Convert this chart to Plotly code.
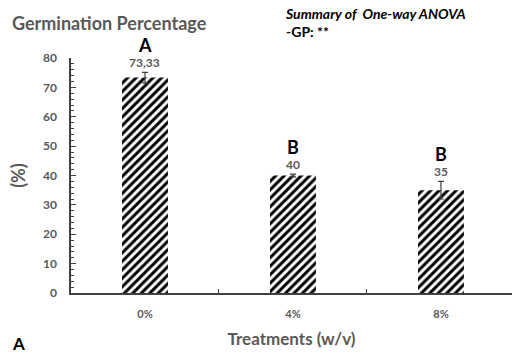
import plotly.graph_objects as go

treatments = ["0%", "4%", "8%"]
germination = [73.33, 40, 35]
error = [1.8, 0.5, 3.0]
value_labels = ["73,33", "40", "35"]
group_letters = ["A", "B", "B"]
y_ticks = [0, 10, 20, 30, 40, 50, 60, 70, 80]

GRAY = "#595959"
FONT = "Lato"

fig = go.Figure()
fig.add_trace(go.Bar(
    x=treatments,
    y=germination,
    width=0.31,
    marker=dict(
        color="white",
        line=dict(width=0),
        pattern=dict(shape="/", fgcolor="black", fgopacity=1, bgcolor="white",
                     size=6, solidity=0.5),
    ),
    error_y=dict(type="data", array=error, visible=True, color="#404040", thickness=1.2, width=3),
    showlegend=False,
))

for x, y, e, lab, letter in zip(treatments, germination, error, value_labels, group_letters):
    fig.add_annotation(x=x, y=y + e, text=lab, showarrow=False, yshift=10,
                       font=dict(family=FONT, size=12, color=GRAY, weight="bold"))
    fig.add_annotation(x=x, y=y + e, text=letter, showarrow=False, yshift=27,
                       font=dict(family=FONT, size=18, color="black", weight="bold"))

fig.add_annotation(xref="paper", yref="paper", x=-0.138, y=1.15, xanchor="left", yanchor="middle",
                   text="Germination Percentage", showarrow=False,
                   font=dict(family=FONT, size=18, color=GRAY, weight="bold"))
fig.add_annotation(xref="paper", yref="paper", x=0.48, y=1.235, xanchor="left", yanchor="top",
                   text="<i>Summary of  One-way ANOVA</i><br>-GP: **", align="left", showarrow=False,
                   font=dict(family=FONT, size=14, color="black", weight="bold"))
fig.add_annotation(xref="paper", yref="paper", x=-0.138, y=-0.213, xanchor="left", yanchor="middle",
                   text="A", showarrow=False,
                   font=dict(family=FONT, size=17, color="black", weight="bold"))

fig.update_layout(
    width=512, height=361,
    margin=dict(l=71, r=0, t=58, b=68),
    plot_bgcolor="white", paper_bgcolor="white",
    font=dict(family=FONT, color=GRAY),
    bargap=0.69,
    xaxis=dict(
        range=[-0.5, 2.48],
        showline=True, linecolor="#404040", linewidth=1.5,
        ticks="inside", ticklen=4, tickcolor="#404040", tickson="boundaries",
        tickfont=dict(family=FONT, size=11, color=GRAY, weight="bold"),
        ticklabelstandoff=10,
        title=dict(text="Treatments (w/v)", standoff=14,
                   font=dict(family=FONT, size=17, color=GRAY, weight="bold")),
        showgrid=False,
    ),
    yaxis=dict(
        range=[0, 80],
        tickvals=y_ticks,
        showline=True, linecolor="#404040", linewidth=1.5,
        ticks="inside", ticklen=5, tickcolor="#404040",
        minor=dict(dtick=2, ticks="inside", ticklen=3, tickcolor="#404040"),
        tickfont=dict(family=FONT, size=12, color=GRAY, weight="bold"),
        ticklabelstandoff=10,
        title=dict(text="(%)", standoff=13,
                   font=dict(family=FONT, size=18, color=GRAY, weight="bold")),
        showgrid=False, zeroline=False,
    ),
)

fig.write_html("out.html")
